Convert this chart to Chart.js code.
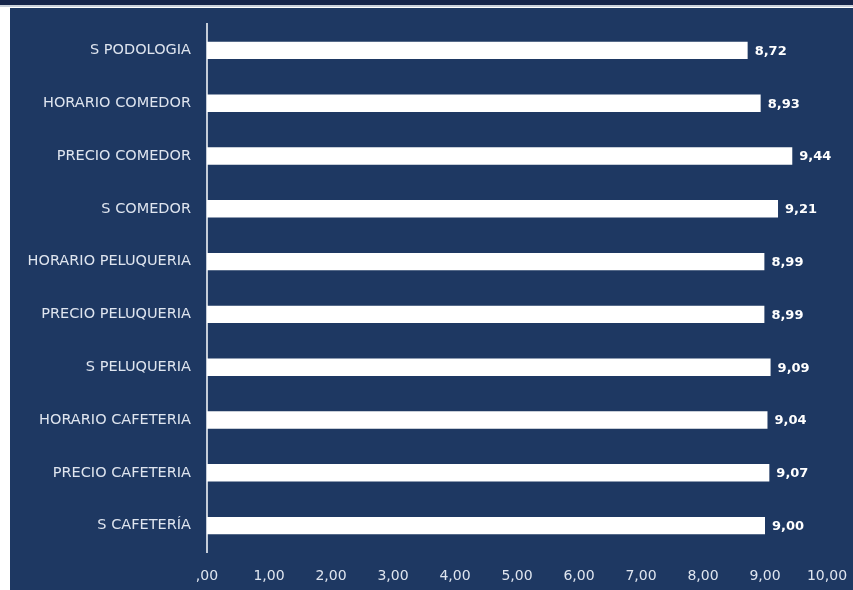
<!DOCTYPE html>
<html>
<head>
<meta charset="utf-8">
<script src="https://cdn.jsdelivr.net/npm/chart.js@4/dist/chart.umd.min.js"></script>
<style>
    html, body { margin: 0; padding: 0; background: #ffffff; }
    #wrap { width: 853px; height: 590px; }
</style>
</head>
<body>
<div id="wrap"><canvas id="satisfactionChart"></canvas></div>
<script>
// valores (de arriba a abajo)
const categories = [
    "S PODOLOGIA", "HORARIO COMEDOR", "PRECIO COMEDOR", "S COMEDOR",
    "HORARIO PELUQUERIA", "PRECIO PELUQUERIA", "S PELUQUERIA",
    "HORARIO CAFETERIA", "PRECIO CAFETERIA", "S CAFETERÍA"
];
const scores = [8.72, 8.93, 9.44, 9.21, 8.99, 8.99, 9.09, 9.04, 9.07, 9.00];
const xTickLabels = [",00", "1,00", "2,00", "3,00", "4,00", "5,00", "6,00", "7,00", "8,00", "9,00", "10,00"];

const navy = "#1e3862";

// fondo con el marco de la captura
const backgroundFrame = {
    id: "backgroundFrame",
    beforeDraw(chart) {
        const c = chart.ctx;
        c.save();
        c.fillStyle = "#ffffff";
        c.fillRect(0, 0, chart.width, chart.height);
        c.fillStyle = "#15254a";
        c.fillRect(0, 0, chart.width, 5);
        c.fillStyle = "#c9d0da";
        c.fillRect(0, 5, chart.width, 2);
        c.fillStyle = navy;
        c.fillRect(10, 8, chart.width - 10, chart.height - 8);
        c.restore();
    }
};

// etiquetas de valor al final de cada barra
const valueLabels = {
    id: "valueLabels",
    afterDatasetsDraw(chart) {
        const c = chart.ctx;
        const meta = chart.getDatasetMeta(0);
        c.save();
        c.font = "bold 13px 'DejaVu Sans', sans-serif";
        c.fillStyle = "#ffffff";
        c.textAlign = "left";
        c.textBaseline = "middle";
        meta.data.forEach((bar, i) => {
            c.fillText(scores[i].toFixed(2).replace(".", ","), bar.x + 7, bar.y + 1);
        });
        c.restore();
    }
};

const ctx = document.getElementById("satisfactionChart").getContext("2d");

new Chart(ctx, {
    type: "bar",
    data: {
        labels: categories,
        datasets: [{
            data: scores,
            backgroundColor: "#ffffff",
            borderWidth: 0,
            barPercentage: 0.66,
            categoryPercentage: 0.5,
        }],
    },
    options: {
        indexAxis: "y",
        responsive: true,
        maintainAspectRatio: false,
        animation: false,
        layout: {
            padding: { top: 24, right: 26, bottom: 0, left: 0 },
        },
        plugins: {
            legend: { display: false },
            tooltip: { enabled: false },
        },
        scales: {
            x: {
                min: 0,
                max: 10,
                grid: { display: false, drawTicks: false },
                border: { display: false },
                ticks: {
                    stepSize: 1,
                    padding: 16,
                    color: "#dfe5ef",
                    font: { family: "'DejaVu Sans', sans-serif", size: 14 },
                    callback: (value, index) => xTickLabels[index],
                },
                afterFit(axis) {
                    axis.height = 38;
                    axis.paddingLeft = 0;
                    axis.paddingRight = 0;
                },
            },
            y: {
                grid: { display: false, drawTicks: false },
                border: { display: true, color: "#c4ccd8", width: 2 },
                ticks: {
                    padding: 16,
                    color: "#dfe5ef",
                    font: { family: "'DejaVu Sans', sans-serif", size: 14.5 },
                },
                afterFit(axis) {
                    axis.width = 207;
                    axis.paddingTop = 0;
                    axis.paddingBottom = 0;
                },
            },
        },
    },
    plugins: [backgroundFrame, valueLabels],
});
</script>
</body>
</html>
